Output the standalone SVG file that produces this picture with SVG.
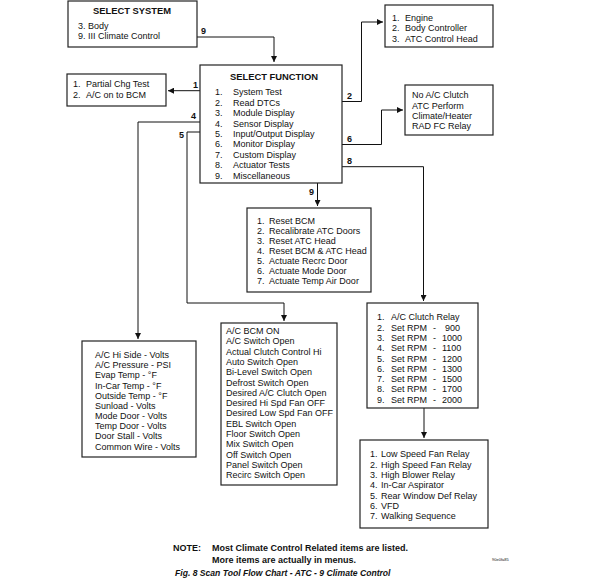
<svg xmlns="http://www.w3.org/2000/svg" width="596" height="585" viewBox="0 0 596 585">
<style>
.box{fill:#fff;stroke:#222;stroke-width:1.2}
.t{font-family:"Liberation Sans",Arial,sans-serif;font-size:9px;fill:#111}
.b{font-weight:bold}
.h{font-family:"Liberation Sans",Arial,sans-serif;font-size:9.4px;font-weight:bold;fill:#111;text-anchor:middle}
.lbl{font-family:"Liberation Sans",Arial,sans-serif;font-size:9px;font-weight:bold;fill:#111}
.ln{fill:none;stroke:#111;stroke-width:1}
</style>
<defs>
<marker id="ar" markerUnits="userSpaceOnUse" markerWidth="7" markerHeight="6" refX="6" refY="3" orient="auto">
<path d="M0,0 L6,3 L0,6 z" fill="#111"/>
</marker>
</defs>
<rect width="596" height="585" fill="#fff"/>

<g id="connectors">
<path class="ln" d="M188,37 H274 V62" marker-end="url(#ar)"/>
<text class="lbl" x="201" y="34">9</text>
<path class="ln" d="M212,90.7 H168" marker-end="url(#ar)"/>
<text class="lbl" x="193" y="88">1</text>
<path class="ln" d="M212,122 H138 V339" marker-end="url(#ar)"/>
<text class="lbl" x="191" y="119">4</text>
<path class="ln" d="M212,132 H187 V303 H284 V321" marker-end="url(#ar)"/>
<text class="lbl" x="179" y="138">5</text>
<path class="ln" d="M335,101.5 H361.5 V22 H383" marker-end="url(#ar)"/>
<text class="lbl" x="347" y="99">2</text>
<path class="ln" d="M335,144.5 H381.5 V110 H403" marker-end="url(#ar)"/>
<text class="lbl" x="347" y="142">6</text>
<path class="ln" d="M335,166.7 H423.5 V301" marker-end="url(#ar)"/>
<text class="lbl" x="347" y="164">8</text>
<path class="ln" d="M317.5,175 V206" marker-end="url(#ar)"/>
<text class="lbl" x="309" y="195">9</text>
<path class="ln" d="M424,408 V438" marker-end="url(#ar)"/>
</g>

<g id="select-system">
<rect class="box" x="68" y="1" width="129" height="46"/>
<text class="h" x="132" y="14">SELECT SYSTEM</text>
<text class="t" y="28.5"><tspan x="78">3.</tspan><tspan x="88">Body</tspan></text>
<text class="t" y="39"><tspan x="78">9.</tspan><tspan x="88">III Climate Control</tspan></text>
</g>

<g id="engine">
<rect class="box" x="385" y="5" width="108" height="42"/>
<text class="t" y="20.5"><tspan x="392">1.</tspan><tspan x="405">Engine</tspan></text>
<text class="t" y="31"><tspan x="392">2.</tspan><tspan x="405">Body Controller</tspan></text>
<text class="t" y="41.5"><tspan x="392">3.</tspan><tspan x="405">ATC Control Head</tspan></text>
</g>

<g id="partial">
<rect class="box" x="67" y="74" width="99" height="32"/>
<text class="t" y="87"><tspan x="73">1.</tspan><tspan x="86">Partial Chg Test</tspan></text>
<text class="t" y="97.5"><tspan x="73">2.</tspan><tspan x="86">A/C on to BCM</tspan></text>
</g>

<g id="select-function">
<rect class="box" x="200" y="65" width="142" height="118"/>
<text class="h" x="274" y="80">SELECT FUNCTION</text>
<text class="t" y="95.3"><tspan x="215">1.</tspan><tspan x="233">System Test</tspan></text>
<text class="t" y="105.7"><tspan x="215">2.</tspan><tspan x="233">Read DTCs</tspan></text>
<text class="t" y="116.1"><tspan x="215">3.</tspan><tspan x="233">Module Display</tspan></text>
<text class="t" y="126.5"><tspan x="215">4.</tspan><tspan x="233">Sensor Display</tspan></text>
<text class="t" y="136.9"><tspan x="215">5.</tspan><tspan x="233">Input/Output Display</tspan></text>
<text class="t" y="147.3"><tspan x="215">6.</tspan><tspan x="233">Monitor Display</tspan></text>
<text class="t" y="157.7"><tspan x="215">7.</tspan><tspan x="233">Custom Display</tspan></text>
<text class="t" y="168.1"><tspan x="215">8.</tspan><tspan x="233">Actuator Tests</tspan></text>
<text class="t" y="178.5"><tspan x="215">9.</tspan><tspan x="233">Miscellaneous</tspan></text>
</g>

<g id="no-ac-clutch">
<rect class="box" x="405" y="85" width="88" height="50"/>
<text class="t" x="412" y="98.3">No A/C Clutch</text>
<text class="t" x="412" y="108.6">ATC Perform</text>
<text class="t" x="412" y="119">Climate/Heater</text>
<text class="t" x="412" y="129.3">RAD FC Relay</text>
</g>

<g id="misc">
<rect class="box" x="247" y="208" width="124" height="84"/>
<text class="t" y="224"><tspan x="257">1.</tspan><tspan x="269">Reset BCM</tspan></text>
<text class="t" y="234"><tspan x="257">2.</tspan><tspan x="269">Recalibrate ATC Doors</tspan></text>
<text class="t" y="244"><tspan x="257">3.</tspan><tspan x="269">Reset ATC Head</tspan></text>
<text class="t" y="254"><tspan x="257">4.</tspan><tspan x="269">Reset BCM &amp; ATC Head</tspan></text>
<text class="t" y="264"><tspan x="257">5.</tspan><tspan x="269">Actuate Recrc Door</tspan></text>
<text class="t" y="274"><tspan x="257">6.</tspan><tspan x="269">Actuate Mode Door</tspan></text>
<text class="t" y="284"><tspan x="257">7.</tspan><tspan x="269">Actuate Temp Air Door</tspan></text>
</g>

<g id="sensor-display">
<rect class="box" x="82" y="341" width="114" height="116"/>
<text class="t" x="95" y="358">A/C Hi Side - Volts</text>
<text class="t" x="95" y="368.2">A/C Pressure - PSI</text>
<text class="t" x="95" y="378.3">Evap Temp - °F</text>
<text class="t" x="95" y="388.5">In-Car Temp - °F</text>
<text class="t" x="95" y="398.6">Outside Temp - °F</text>
<text class="t" x="95" y="408.8">Sunload - Volts</text>
<text class="t" x="95" y="419">Mode Door - Volts</text>
<text class="t" x="95" y="429.1">Temp Door - Volts</text>
<text class="t" x="95" y="439.3">Door Stall - Volts</text>
<text class="t" x="95" y="449.5">Common Wire - Volts</text>
</g>

<g id="io-display">
<rect class="box" x="221" y="323" width="116" height="162"/>
<text class="t" x="226" y="334">A/C BCM ON</text>
<text class="t" x="226" y="344.3">A/C Switch Open</text>
<text class="t" x="226" y="354.6">Actual Clutch Control Hi</text>
<text class="t" x="226" y="364.9">Auto Switch Open</text>
<text class="t" x="226" y="375.2">Bi-Level Switch Open</text>
<text class="t" x="226" y="385.5">Defrost Switch Open</text>
<text class="t" x="226" y="395.8">Desired A/C Clutch Open</text>
<text class="t" x="226" y="406.1">Desired Hi Spd Fan OFF</text>
<text class="t" x="226" y="416.4">Desired Low Spd Fan OFF</text>
<text class="t" x="226" y="426.7">EBL Switch Open</text>
<text class="t" x="226" y="437">Floor Switch Open</text>
<text class="t" x="226" y="447.3">Mix Switch Open</text>
<text class="t" x="226" y="457.6">Off Switch Open</text>
<text class="t" x="226" y="467.9">Panel Switch Open</text>
<text class="t" x="226" y="478.2">Recirc Switch Open</text>
</g>

<g id="actuator-tests">
<rect class="box" x="367" y="303" width="111" height="105"/>
<text class="t" y="320.3"><tspan x="377">1.</tspan><tspan x="391">A/C Clutch Relay</tspan></text>
<text class="t" y="330.6"><tspan x="377">2.</tspan><tspan x="391">Set RPM</tspan><tspan x="433">-</tspan><tspan x="445">900</tspan></text>
<text class="t" y="340.9"><tspan x="377">3.</tspan><tspan x="391">Set RPM</tspan><tspan x="433">-</tspan><tspan x="442">1000</tspan></text>
<text class="t" y="351.2"><tspan x="377">4.</tspan><tspan x="391">Set RPM</tspan><tspan x="433">-</tspan><tspan x="442">1100</tspan></text>
<text class="t" y="361.5"><tspan x="377">5.</tspan><tspan x="391">Set RPM</tspan><tspan x="433">-</tspan><tspan x="442">1200</tspan></text>
<text class="t" y="371.8"><tspan x="377">6.</tspan><tspan x="391">Set RPM</tspan><tspan x="433">-</tspan><tspan x="442">1300</tspan></text>
<text class="t" y="382.1"><tspan x="377">7.</tspan><tspan x="391">Set RPM</tspan><tspan x="433">-</tspan><tspan x="442">1500</tspan></text>
<text class="t" y="392.4"><tspan x="377">8.</tspan><tspan x="391">Set RPM</tspan><tspan x="433">-</tspan><tspan x="442">1700</tspan></text>
<text class="t" y="402.7"><tspan x="377">9.</tspan><tspan x="391">Set RPM</tspan><tspan x="433">-</tspan><tspan x="442">2000</tspan></text>
</g>

<g id="relays">
<rect class="box" x="360" y="440" width="128" height="88"/>
<text class="t" y="457.3"><tspan x="370">1.</tspan><tspan x="381">Low Speed Fan Relay</tspan></text>
<text class="t" y="467.6"><tspan x="370">2.</tspan><tspan x="381">High Speed Fan Relay</tspan></text>
<text class="t" y="477.9"><tspan x="370">3.</tspan><tspan x="381">High Blower Relay</tspan></text>
<text class="t" y="488.2"><tspan x="370">4.</tspan><tspan x="381">In-Car Aspirator</tspan></text>
<text class="t" y="498.5"><tspan x="370">5.</tspan><tspan x="381">Rear Window Def Relay</tspan></text>
<text class="t" y="508.8"><tspan x="370">6.</tspan><tspan x="381">VFD</tspan></text>
<text class="t" y="519.1"><tspan x="370">7.</tspan><tspan x="381">Walking Sequence</tspan></text>
</g>

<g id="notes">
<text class="t b" x="173" y="551">NOTE:</text>
<text class="t b" x="212" y="551">Most Climate Control Related items are listed.</text>
<text class="t b" x="212" y="563">More items are actually in menus.</text>
<text class="t b" x="175" y="575.5" style="font-style:italic;font-size:8.6px">Fig. 8 Scan Tool Flow Chart - ATC - 9 Climate Control</text>
<text class="t" x="492" y="561" style="font-size:4px">90e0fa85</text>
</g>
</svg>
